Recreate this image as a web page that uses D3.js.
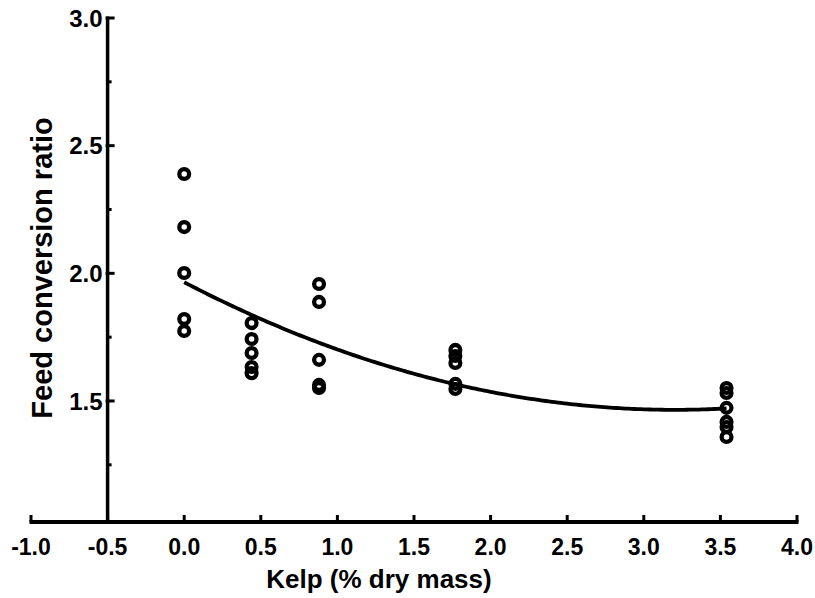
<!DOCTYPE html>
<html><head><meta charset="utf-8">
<script src="https://cdn.jsdelivr.net/npm/d3@7"></script>
<style>body{margin:0;background:#fff}svg{display:block}text{font-family:"Liberation Sans",Arial,sans-serif;font-weight:bold;fill:#000}</style>
</head><body><svg id="c" width="815" height="598"></svg>
<script>
// Data
const kelp0 = [2.389, 2.181, 2.001, 1.821, 1.774];
const kelp044 = [1.805, 1.743, 1.688, 1.633, 1.609];
const kelp088 = [1.958, 1.888, 1.661, 1.563, 1.551];
const kelp177 = [1.700, 1.676, 1.649, 1.567, 1.547];
const kelp354 = [1.551, 1.531, 1.473, 1.418, 1.398, 1.359];
const kelpLevels = [0, 0.44, 0.88, 1.77, 3.54];
const groups = [kelp0, kelp044, kelp088, kelp177, kelp354];
const fitCoef = [1.965, -0.312, 0.0487]; // quadratic regression a + b x + c x^2
const xTicks = [-1.0, -0.5, 0.0, 0.5, 1.0, 1.5, 2.0, 2.5, 3.0, 3.5, 4.0];
const yTicks = [1.5, 2.0, 2.5, 3.0];
const yMinor = [1.25, 1.75, 2.25, 2.75];

const svg = d3.select("#c");
const x = d3.scaleLinear().domain([-1, 4]).range([31, 797]);
const y = d3.scaleLinear().domain([1.026, 3.0]).range([522, 18]);

// curve
const xs = d3.range(0, 3.541, 0.02);
const line = d3.line().x(d => x(d)).y(d => y(fitCoef[0] + fitCoef[1]*d + fitCoef[2]*d*d));
svg.append("path").attr("d", line(xs)).attr("fill","none").attr("stroke","#000").attr("stroke-width",3.8);

// points
groups.forEach((g,i)=>{
  svg.selectAll(null).data(g).enter().append("circle")
    .attr("cx", x(kelpLevels[i])).attr("cy", d=>y(d)).attr("r",4.9)
    .attr("fill","none").attr("stroke","#000").attr("stroke-width",4.3);
});

// Y axis at x = -0.5
const ax = x(-0.5);
svg.append("line").attr("x1",ax).attr("x2",ax).attr("y1",y(3.0)-1.5).attr("y2",y.range()[0]).attr("stroke","#000").attr("stroke-width",3.5);
yTicks.forEach(t=>{
  svg.append("line").attr("x1",ax-2).attr("x2",ax+7).attr("y1",y(t)).attr("y2",y(t)).attr("stroke","#000").attr("stroke-width",3);
  svg.append("text").attr("x",ax-5).attr("y",y(t)).attr("dy","0.36em").attr("text-anchor","end").attr("font-size",24).text(t.toFixed(1));
});
yMinor.forEach(t=>{
  svg.append("line").attr("x1",ax).attr("x2",ax+4).attr("y1",y(t)).attr("y2",y(t)).attr("stroke","#000").attr("stroke-width",3);
});

// X axis
const ay = y.range()[0];
svg.append("line").attr("x1",x(-1)-1.5).attr("x2",x(4)+1.5).attr("y1",ay).attr("y2",ay).attr("stroke","#000").attr("stroke-width",4);
xTicks.forEach(t=>{
  svg.append("line").attr("x1",x(t)).attr("x2",x(t)).attr("y1",ay).attr("y2",ay-7).attr("stroke","#000").attr("stroke-width",3);
  svg.append("text").attr("x",x(t)).attr("y",ay+33).attr("text-anchor","middle").attr("font-size",23).text(t.toFixed(1));
});

// titles
svg.append("text").attr("x",379).attr("y",588).attr("text-anchor","middle").attr("font-size",26).text("Kelp (% dry mass)");
svg.append("text").attr("transform","translate(52,268) rotate(-90)").attr("text-anchor","middle").attr("font-size",29).text("Feed conversion ratio");
</script></body></html>
